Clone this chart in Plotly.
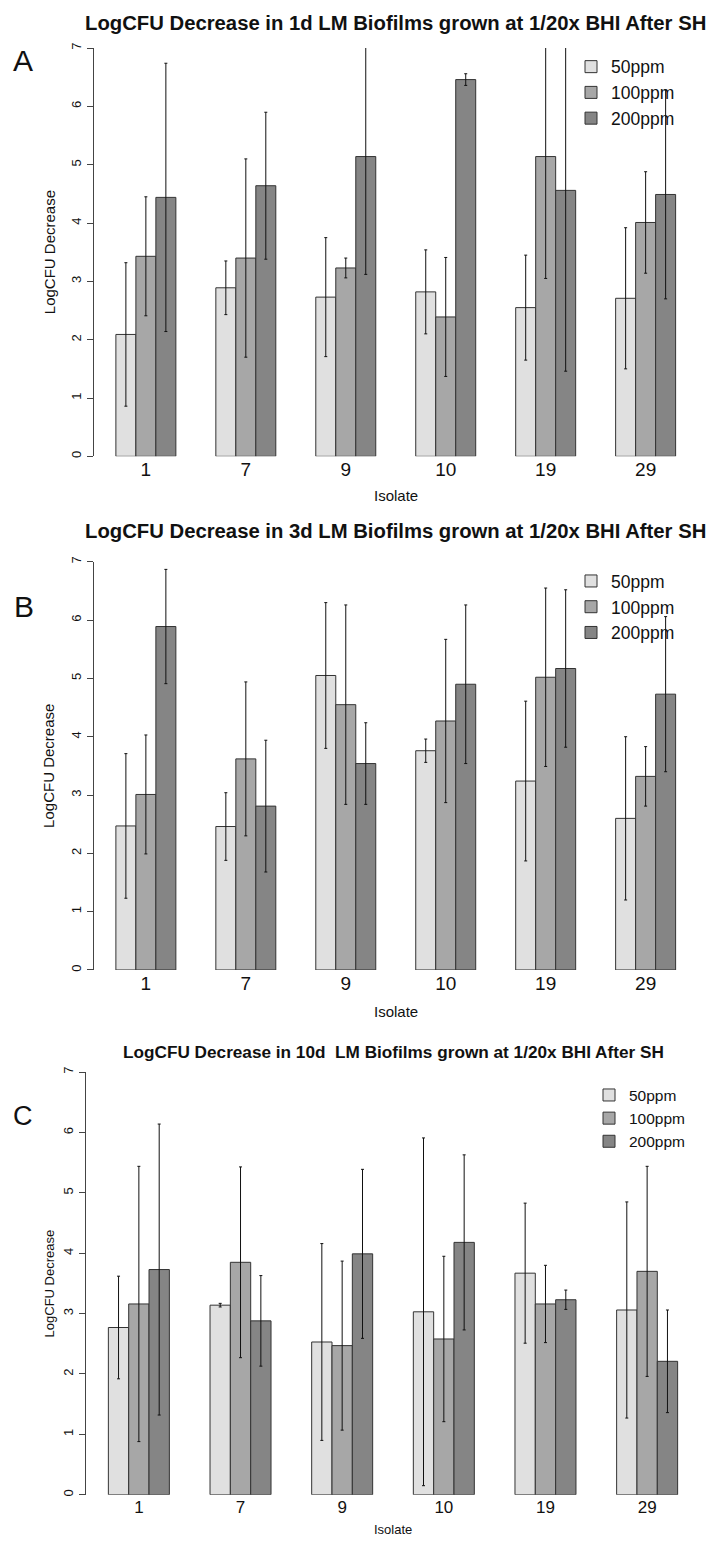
import plotly.graph_objects as go

# ---------------- data ----------------
isolates = ['1', '7', '9', '10', '19', '29']
series_names = ['50ppm', '100ppm', '200ppm']

A_50 = [2.09, 2.89, 2.73, 2.82, 2.55, 2.71]
A_50_err = [1.23, 0.46, 1.02, 0.72, 0.90, 1.21]
A_100 = [3.43, 3.40, 3.23, 2.39, 5.14, 4.01]
A_100_err = [1.02, 1.70, 0.17, 1.02, 2.09, 0.87]
A_200 = [4.44, 4.64, 5.14, 6.46, 4.56, 4.49]
A_200_err = [2.30, 1.26, 2.02, 0.10, 3.10, 1.79]

B_50 = [2.47, 2.46, 5.05, 3.76, 3.24, 2.60]
B_50_err = [1.24, 0.58, 1.25, 0.20, 1.37, 1.40]
B_100 = [3.01, 3.62, 4.55, 4.27, 5.02, 3.32]
B_100_err = [1.02, 1.32, 1.71, 1.40, 1.53, 0.51]
B_200 = [5.89, 2.81, 3.54, 4.90, 5.17, 4.73]
B_200_err = [0.98, 1.13, 0.70, 1.36, 1.35, 1.33]

C_50 = [2.77, 3.14, 2.53, 3.03, 3.67, 3.06]
C_50_err = [0.85, 0.03, 1.63, 2.88, 1.16, 1.79]
C_100 = [3.16, 3.85, 2.47, 2.58, 3.16, 3.70]
C_100_err = [2.28, 1.58, 1.40, 1.37, 0.64, 1.74]
C_200 = [3.73, 2.88, 3.99, 4.18, 3.23, 2.21]
C_200_err = [2.41, 0.75, 1.40, 1.45, 0.16, 0.85]

titles = [
    'LogCFU Decrease in 1d LM Biofilms grown at 1/20x BHI After SH',
    'LogCFU Decrease in 3d LM Biofilms grown at 1/20x BHI After SH',
    'LogCFU Decrease in 10d  LM Biofilms grown at 1/20x BHI After SH',
]
panel_letters = ['A', 'B', 'C']
y_title = 'LogCFU Decrease'
x_title = 'Isolate'

# ---------------- style / layout ----------------
W, H = 709, 1541
colors = ['#E0E0E0', '#A7A7A7', '#858585']
FONT = 'Liberation Sans, Arial, Helvetica, sans-serif'


def px_x(p):
    return p / W


def px_y(p):
    return 1 - p / H


panels = [
    dict(data=[(A_50, A_50_err), (A_100, A_100_err), (A_200, A_200_err)],
         x0=93.5, x1=698.0, ytop=42.3, ybot=452.7,
         title_y=17.5, title_size=20.3, letter_x=23, letter_y=55, letter_size=30,
         ylab_x=49, ylab_size=15, xlab_y=492, xlab_size=15,
         xtick_size=19, ytick_size=13,
         leg_x=571, leg_y=43, leg_size=17.5),
    dict(data=[(B_50, B_50_err), (B_100, B_100_err), (B_200, B_200_err)],
         x0=93.5, x1=698.0, ytop=558.7, ybot=969.0,
         title_y=527.7, title_size=20.3, letter_x=24, letter_y=603.5, letter_size=30,
         ylab_x=49, ylab_size=15, xlab_y=1010.7, xlab_size=15,
         xtick_size=19, ytick_size=13,
         leg_x=571, leg_y=560, leg_size=17.5),
    dict(data=[(C_50, C_50_err), (C_100, C_100_err), (C_200, C_200_err)],
         x0=85.6, x1=700.4, ytop=1071.7, ybot=1496.5,
         title_y=1051, title_size=17.2, letter_x=23, letter_y=1115.5, letter_size=27,
         ylab_x=49, ylab_size=13, xlab_y=1531.7, xlab_size=13,
         xtick_size=17, ytick_size=13,
         leg_x=589, leg_y=1078, leg_size=15.5),
]

fig = go.Figure()
annotations = []
layout_axes = {}

for i, p in enumerate(panels):
    n = i + 1
    xa = 'x' if n == 1 else f'x{n}'
    ya = 'y' if n == 1 else f'y{n}'
    leg = 'legend' if n == 1 else f'legend{n}'
    for (vals, errs), name, col in zip(p['data'], series_names, colors):
        fig.add_trace(go.Bar(
            x=isolates, y=vals, name=name,
            marker=dict(color=col, line=dict(color='#333333', width=1)),
            error_y=dict(type='data', array=errs, symmetric=True,
                         color='#111111', thickness=1, width=1.5),
            xaxis=xa, yaxis=ya, legend=leg, showlegend=True,
        ))
    xkey = 'xaxis' if n == 1 else f'xaxis{n}'
    ykey = 'yaxis' if n == 1 else f'yaxis{n}'
    layout_axes[xkey] = dict(
        domain=[px_x(p['x0']), px_x(p['x1'])], anchor=ya,
        type='category', range=[-0.524, 5.524],
        showline=False, showgrid=False, zeroline=False, ticks='',
        tickfont=dict(size=p['xtick_size'], color='#111111', family=FONT),
    )
    layout_axes[ykey] = dict(
        domain=[px_y(p['ybot']), px_y(p['ytop'])], anchor=xa,
        range=[0, 7], dtick=1, tick0=0,
        showline=True, linecolor='#444444', linewidth=1,
        ticks='outside', ticklen=6, tickcolor='#444444', tickwidth=1,
        tickangle=-90, showgrid=False, zeroline=False,
        tickfont=dict(size=p['ytick_size'], color='#111111', family=FONT),
    )
    layout_axes[leg] = dict(
        x=px_x(p['leg_x']), y=px_y(p['leg_y']), xanchor='left', yanchor='top',
        bgcolor='rgba(0,0,0,0)', borderwidth=0,
        font=dict(size=p['leg_size'], color='#111111', family=FONT),
        traceorder='normal',
    )
    cx = (p['x0'] + p['x1']) / 2
    cy = (p['ytop'] + p['ybot']) / 2
    annotations += [
        dict(text=f'<b>{titles[i]}</b>', x=px_x(cx), y=px_y(p['title_y']),
             xref='paper', yref='paper', showarrow=False, xanchor='center', yanchor='middle',
             font=dict(size=p['title_size'], color='#111111', family=FONT)),
        dict(text=panel_letters[i], x=px_x(p['letter_x']), y=px_y(p['letter_y']),
             xref='paper', yref='paper', showarrow=False, xanchor='center', yanchor='middle',
             font=dict(size=p['letter_size'], color='#111111', family=FONT)),
        dict(text=y_title, x=px_x(p['ylab_x']), y=px_y(cy), textangle=-90,
             xref='paper', yref='paper', showarrow=False, xanchor='center', yanchor='middle',
             font=dict(size=p['ylab_size'], color='#111111', family=FONT)),
        dict(text=x_title, x=px_x(cx), y=px_y(p['xlab_y']),
             xref='paper', yref='paper', showarrow=False, xanchor='center', yanchor='middle',
             font=dict(size=p['xlab_size'], color='#111111', family=FONT)),
    ]

fig.update_layout(
    width=W, height=H, margin=dict(l=0, r=0, t=0, b=0),
    paper_bgcolor='white', plot_bgcolor='white',
    barmode='group', bargap=0.4, bargroupgap=0,
    font=dict(family=FONT, color='#111111'),
    annotations=annotations,
    **layout_axes,
)

fig.write_html('out.html')
